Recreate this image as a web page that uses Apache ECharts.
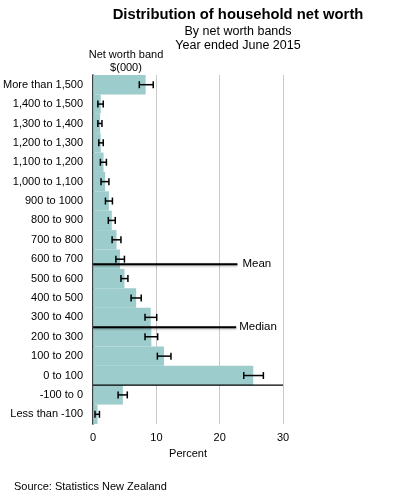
<!DOCTYPE html>
<html>
<head>
<meta charset="utf-8">
<script src="https://cdn.jsdelivr.net/npm/echarts@6/dist/echarts.min.js"></script>
<style>
html,body{margin:0;padding:0;background:#fff;}
#chart{width:393px;height:500px;}
</style>
</head>
<body>
<div id="chart"></div>
<script>
// Net worth bands, top to bottom
var categories = ['More than 1,500','1,400 to 1,500','1,300 to 1,400','1,200 to 1,300','1,100 to 1,200','1,000 to 1,100','900 to 1000','800 to 900','700 to 800','600 to 700','500 to 600','400 to 500','300 to 400','200 to 300','100 to 200','0 to 100','-100 to 0','Less than -100'];
// Percent of households
var percent = [8.3, 1.2, 1.1, 1.2, 1.65, 1.9, 2.5, 2.95, 3.7, 4.25, 4.95, 6.8, 9.1, 9.2, 11.2, 25.3, 4.7, 0.7];
var errLow  = [7.3, 0.75, 0.75, 0.9, 1.15, 1.25, 1.95, 2.4, 3.0, 3.6, 4.4, 6.0, 8.2, 8.2, 10.15, 23.8, 3.95, 0.3];
var errHigh = [9.5, 1.6, 1.4, 1.6, 2.1, 2.5, 3.05, 3.5, 4.4, 4.95, 5.5, 7.6, 10.05, 10.2, 12.3, 26.9, 5.4, 1.0];
// Net worth ($000) for reference lines
var meanWorth = 624;
var medianWorth = 299;
var refLineEnd = [22.8, 22.6];
var xTicks = [0, 10, 20, 30];

var chart = echarts.init(document.getElementById('chart'));
var font = 'Liberation Sans, Arial, sans-serif';

var errData = categories.map(function (c, i) { return [errLow[i], errHigh[i], i]; });

function refLine(val, end, name, dist) {
  return {
    type: 'line', yAxisIndex: 1, symbol: 'none', z: 6,
    lineStyle: { color: '#000', width: 2.2, shadowColor: 'rgba(0,0,0,0.35)', shadowBlur: 2, shadowOffsetY: 1 },
    endLabel: { show: true, formatter: name, fontSize: 11.5, color: '#000', fontFamily: font, distance: dist },
    data: [[0, val], [end, val]]
  };
}

chart.setOption({
  animation: false,
  textStyle: { fontFamily: font },
  title: [
    { text: 'Distribution of household net worth', left: 238, top: 7, textAlign: 'center', padding: 0,
      textStyle: { fontSize: 14.8, fontWeight: 'bold', color: '#000', fontFamily: font } },
    { text: 'By net worth bands\nYear ended June 2015', left: 238, top: 25, textAlign: 'center', padding: 0,
      textStyle: { fontSize: 12.5, fontWeight: 'normal', color: '#000', lineHeight: 13.5, fontFamily: font } },
    { text: 'Net worth band\n$(000)', left: 126, top: 48, textAlign: 'center', padding: 0,
      textStyle: { fontSize: 11, fontWeight: 'normal', color: '#000', lineHeight: 13, fontFamily: font } },
    { text: 'Source: Statistics New Zealand', left: 14, top: 481, padding: 0,
      textStyle: { fontSize: 11, fontWeight: 'normal', color: '#000', fontFamily: font } }
  ],
  grid: { left: 92, top: 75, width: 191, height: 349, containLabel: false },
  xAxis: {
    type: 'value', min: 0, max: 30, interval: 10,
    name: 'Percent', nameLocation: 'middle', nameGap: 24,
    nameTextStyle: { fontSize: 11, color: '#000', fontFamily: font },
    axisLine: { show: false }, axisTick: { show: false },
    axisLabel: { fontSize: 11, color: '#000', margin: 8, fontFamily: font,
      customValues: xTicks },
    splitLine: { show: true, lineStyle: { color: '#c8c8c8', width: 1 } }
  },
  yAxis: [
    {
      type: 'category', data: categories, inverse: true,
      axisLine: { show: true, lineStyle: { color: '#000', width: 1.5 } },
      axisTick: { show: false },
      axisLabel: { fontSize: 11, color: '#000', margin: 10, fontFamily: font },
      splitLine: { show: false }
    },
    {
      type: 'value', min: -200, max: 1600, show: false
    }
  ],
  series: [
    {
      type: 'bar', data: percent, yAxisIndex: 0, barCategoryGap: 0,
      itemStyle: { color: '#9ccccc' }, z: 2
    },
    {
      type: 'custom', yAxisIndex: 0, data: errData, encode: { x: [0, 1], y: 2 }, z: 5,
      renderItem: function (params, api) {
        var idx = api.value(2);
        var a = api.coord([api.value(0), idx]);
        var b = api.coord([api.value(1), idx]);
        var h = 3.5;
        var st = { stroke: '#000', lineWidth: 1.5 };
        return { type: 'group', children: [
          { type: 'line', shape: { x1: a[0], y1: a[1], x2: b[0], y2: b[1] }, style: st },
          { type: 'line', shape: { x1: a[0], y1: a[1] - h, x2: a[0], y2: a[1] + h }, style: st },
          { type: 'line', shape: { x1: b[0], y1: b[1] - h, x2: b[0], y2: b[1] + h }, style: st }
        ] };
      }
    },
    refLine(meanWorth, refLineEnd[0], 'Mean', 5),
    refLine(medianWorth, refLineEnd[1], 'Median', 3),
    {
      type: 'line', yAxisIndex: 1, symbol: 'none', z: 6,
      lineStyle: { color: '#000', width: 1.2 },
      data: [[0, 0], [30, 0]]
    }
  ]
});
</script>
</body>
</html>
